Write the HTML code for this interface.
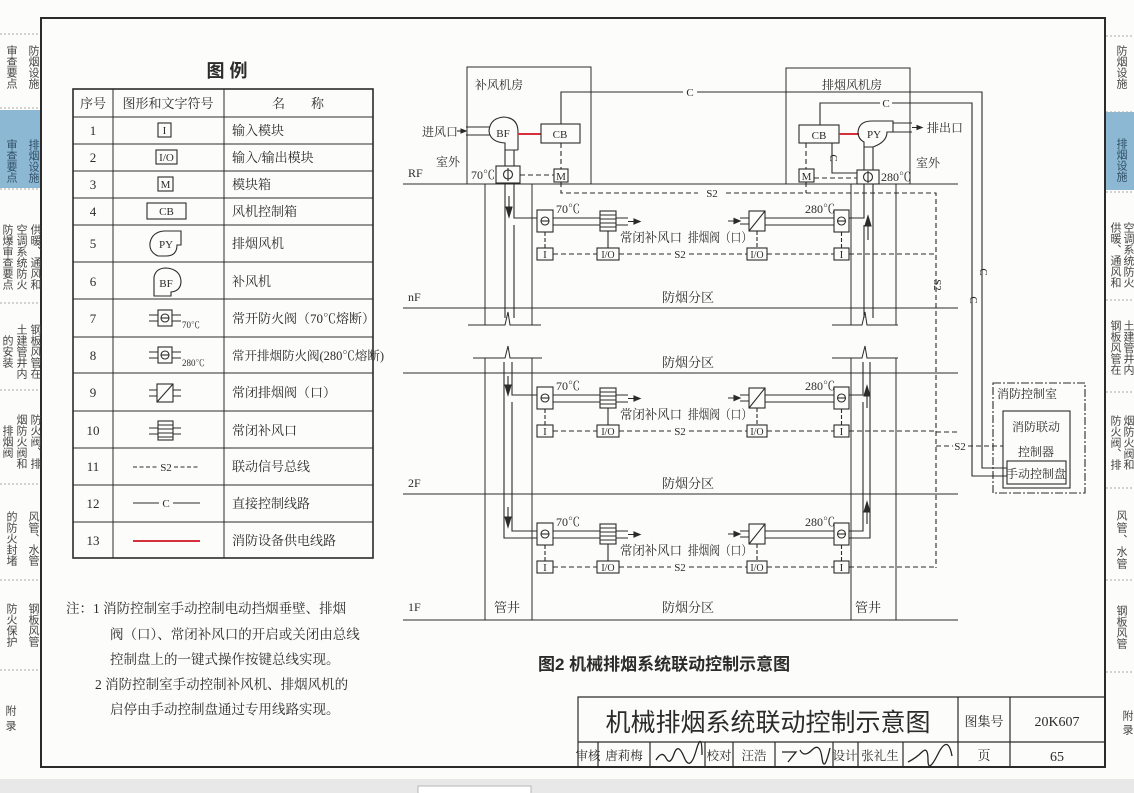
<!DOCTYPE html>
<html><head><meta charset="utf-8">
<style>
body{margin:0;width:1134px;height:793px;overflow:hidden;background:#fcfcfa;position:relative;font-family:"Liberation Serif","Noto Serif CJK SC",serif;}
.v{position:absolute;writing-mode:vertical-rl;font-family:"Liberation Sans","Noto Sans CJK SC",sans-serif;font-size:11px;color:#444;text-align:center;}
.vr{position:absolute;writing-mode:vertical-lr;font-family:"Liberation Sans","Noto Sans CJK SC",sans-serif;font-size:11px;color:#444;white-space:nowrap;}
svg{position:absolute;left:0;top:0;}
svg text{fill:#2b2b2b;stroke:none;}
</style></head><body>
<svg width="1134" height="793" viewBox="0 0 1134 793" font-family="'Liberation Serif','Noto Serif CJK SC',serif" fill="none" stroke="#2b2b2b" stroke-width="1.1">
<rect x="0" y="110" width="41" height="78" fill="#8db8d4" stroke="none"/>
<rect x="1106" y="112" width="28" height="78" fill="#8db8d4" stroke="none"/>
<g stroke="#aaa" stroke-dasharray="2,2" stroke-width="1">
<line x1="0" y1="34" x2="41" y2="34"/><line x1="0" y1="108" x2="41" y2="108"/><line x1="0" y1="189" x2="41" y2="189"/><line x1="0" y1="303" x2="41" y2="303"/><line x1="0" y1="390" x2="41" y2="390"/><line x1="0" y1="484" x2="41" y2="484"/><line x1="0" y1="580" x2="41" y2="580"/><line x1="0" y1="670" x2="41" y2="670"/>
<line x1="1106" y1="36" x2="1134" y2="36"/><line x1="1106" y1="112" x2="1134" y2="112"/><line x1="1106" y1="192" x2="1134" y2="192"/><line x1="1106" y1="300" x2="1134" y2="300"/><line x1="1106" y1="392" x2="1134" y2="392"/><line x1="1106" y1="488" x2="1134" y2="488"/><line x1="1106" y1="580" x2="1134" y2="580"/><line x1="1106" y1="672" x2="1134" y2="672"/>
</g>
<rect x="0" y="779" width="1134" height="14" fill="#e8e8e8" stroke="none"/>
<rect x="418" y="786" width="113" height="10" fill="#fff" stroke="#bbb"/>
<rect x="41" y="18" width="1064" height="749" stroke-width="2"/>

<text x="227" y="77" font-size="18" font-weight="bold" text-anchor="middle" font-family="'Liberation Sans','Noto Sans CJK SC',sans-serif">图 例</text>
<rect x="73" y="89" width="300" height="469" stroke-width="1.6"/>
<g stroke-width="1">
<line x1="113" y1="89" x2="113" y2="558"/><line x1="224" y1="89" x2="224" y2="558"/>
<line x1="73" y1="117" x2="373" y2="117"/><line x1="73" y1="144" x2="373" y2="144"/><line x1="73" y1="171" x2="373" y2="171"/><line x1="73" y1="198" x2="373" y2="198"/><line x1="73" y1="225" x2="373" y2="225"/><line x1="73" y1="262" x2="373" y2="262"/><line x1="73" y1="299" x2="373" y2="299"/><line x1="73" y1="337" x2="373" y2="337"/><line x1="73" y1="373" x2="373" y2="373"/><line x1="73" y1="411" x2="373" y2="411"/><line x1="73" y1="448" x2="373" y2="448"/><line x1="73" y1="485" x2="373" y2="485"/><line x1="73" y1="522" x2="373" y2="522"/>
</g>
<g font-size="13">
<text x="93" y="108" text-anchor="middle">序号</text><text x="168" y="108" text-anchor="middle">图形和文字符号</text><text x="298" y="108" text-anchor="middle">名　　称</text>
<g text-anchor="middle"><text x="93" y="135">1</text><text x="93" y="162">2</text><text x="93" y="189">3</text><text x="93" y="216">4</text><text x="93" y="248">5</text><text x="93" y="286">6</text><text x="93" y="323">7</text><text x="93" y="360">8</text><text x="93" y="397">9</text><text x="93" y="435">10</text><text x="93" y="471">11</text><text x="93" y="508">12</text><text x="93" y="545">13</text></g>
<text x="232" y="135">输入模块</text><text x="232" y="162">输入/输出模块</text><text x="232" y="189">模块箱</text><text x="232" y="216">风机控制箱</text><text x="232" y="248">排烟风机</text><text x="232" y="286">补风机</text><text x="232" y="323">常开防火阀（70℃熔断）</text><text x="232" y="360" font-size="12.5">常开排烟防火阀(280℃熔断)</text><text x="232" y="397">常闭排烟阀（口）</text><text x="232" y="435">常闭补风口</text><text x="232" y="471">联动信号总线</text><text x="232" y="508">直接控制线路</text><text x="232" y="545">消防设备供电线路</text>
</g>
<g font-size="11" fill="none">
<rect x="158" y="123" width="13" height="14"/><text x="164.5" y="134" text-anchor="middle">I</text>
<rect x="156" y="150" width="21" height="14"/><text x="166.5" y="161" text-anchor="middle">I/O</text>
<rect x="158" y="177" width="15" height="14"/><text x="165.5" y="188" text-anchor="middle">M</text>
<rect x="147" y="203" width="39" height="16"/><text x="166.5" y="215" text-anchor="middle">CB</text>
<path d="M158,256 Q149,252 150,243 Q152,232 164,231 L181,231 L181,245 L177,245 Q177,256 166,256 Z"/><text x="166" y="248" text-anchor="middle">PY</text>
<path d="M154,296 L154,277 Q156,268 166,268 Q180,269 181,281 Q181,291 171,292 L171,296 Z"/><text x="166" y="287" text-anchor="middle">BF</text>
<rect x="158" y="310" width="14" height="16"/><circle cx="165" cy="318" r="4"/><line x1="161" y1="318" x2="169" y2="318"/><path d="M149,315H158M149,321H158M172,315H181M172,321H181"/><text x="182" y="328" font-size="9">70℃</text>
<rect x="158" y="347" width="14" height="16"/><circle cx="165" cy="355" r="4"/><line x1="161" y1="355" x2="169" y2="355"/><path d="M149,352H158M149,358H158M172,352H181M172,358H181"/><text x="182" y="366" font-size="9">280℃</text>
<rect x="157" y="384" width="16" height="18"/><line x1="157" y1="402" x2="173" y2="384"/><path d="M149,390H157M149,396H157M173,390H181M173,396H181"/>
<rect x="158" y="421" width="15" height="19"/><path d="M158,425H173M158,429H173M158,433H173M158,437H173M149,428H158M149,434H158M173,428H181M173,434H181"/>
<line x1="133" y1="467" x2="158" y2="467" stroke-dasharray="4,2.5"/><text x="166" y="471" text-anchor="middle">S2</text><line x1="174" y1="467" x2="200" y2="467" stroke-dasharray="4,2.5"/>
<line x1="133" y1="503" x2="159" y2="503"/><text x="166" y="507" text-anchor="middle">C</text><line x1="173" y1="503" x2="200" y2="503"/>
<line x1="133" y1="541" x2="200" y2="541" stroke="#d3303c" stroke-width="2"/>
</g>
<g font-size="13.5">
<text x="66" y="613">注：1 消防控制室手动控制电动挡烟垂壁、排烟</text>
<text x="110" y="639">阀（口）、常闭补风口的开启或关闭由总线</text>
<text x="110" y="664">控制盘上的一键式操作按键总线实现。</text>
<text x="95" y="689">2 消防控制室手动控制补风机、排烟风机的</text>
<text x="110" y="714">启停由手动控制盘通过专用线路实现。</text>
</g>

<g stroke-width="1">
<line x1="403" y1="184" x2="958" y2="184"/><line x1="403" y1="308" x2="958" y2="308"/><line x1="403" y1="373" x2="958" y2="373"/><line x1="403" y1="494" x2="958" y2="494"/><line x1="403" y1="620" x2="958" y2="620"/>
<path d="M467,184V67H591V184"/><path d="M786,184V68H910V184"/>
<path d="M485,184V325M532,184V325M851,184V325M896,184V325"/>
<path d="M468,325H505L508,312L510,325H541"/><path d="M832,325H862L865,312L867,325H898"/>
<path d="M473,358H505L508,346L510,358H542"/><path d="M832,358H862L865,346L867,358H898"/>
<path d="M485,358V620M532,358V620M851,358V620M896,358V620"/>
</g>
<g font-size="12">
<text x="408" y="177">RF</text><text x="408" y="301">nF</text><text x="408" y="487">2F</text><text x="408" y="611">1F</text>
<text x="475" y="89">补风机房</text><text x="822" y="89">排烟风机房</text>
<text x="422" y="136">进风口</text><text x="436" y="166">室外</text><text x="916" y="167">室外</text>
<text x="927" y="132">排出口</text>
<text x="471" y="179">70℃</text><text x="881" y="181">280℃</text>
<g text-anchor="middle" font-size="13"><text x="688" y="302">防烟分区</text><text x="688" y="367">防烟分区</text><text x="688" y="488">防烟分区</text><text x="688" y="612">防烟分区</text><text x="507" y="612">管井</text><text x="868" y="612">管井</text></g>
</g>
<g font-size="11" fill="none">
<path d="M457,131H461"/><path d="M466,131l-5,-2v4z" fill="#2b2b2b"/>
<path d="M466,127H490M466,135H490"/>
<path d="M505,150L505,143Q490,142 489,131Q490,118 504,117Q518,118 518,132V150M505,150H518"/>
<text x="503" y="137" text-anchor="middle">BF</text>
<line x1="518" y1="134" x2="541" y2="134" stroke="#d3303c" stroke-width="2"/>
<rect x="541" y="124" width="39" height="19"/><text x="560" y="138" text-anchor="middle">CB</text>
<path d="M505,150V166M514,150V166"/>
<rect x="496" y="166" width="24" height="17"/><circle cx="508" cy="174.5" r="4.5"/><line x1="508" y1="168" x2="508" y2="181"/>
<line x1="520" y1="175" x2="554" y2="175" stroke-dasharray="5,3"/>
<line x1="561" y1="143" x2="561" y2="169" stroke-dasharray="5,3"/>
<rect x="554" y="169" width="14" height="13"/><text x="561" y="180" text-anchor="middle">M</text>
<path d="M561,182V193H698M726,193H936V568" stroke-dasharray="5,3"/>
<text x="712" y="197" text-anchor="middle">S2</text>
<text transform="translate(934,285) rotate(90)" text-anchor="middle">S2</text>
<path d="M561,124V92H683M697,92H982V468H1007"/><text x="690" y="96" text-anchor="middle">C</text>
<path d="M820,125V103H880M892,103H972V476H1007"/><text x="886" y="107" text-anchor="middle">C</text>
<text transform="translate(970,300) rotate(90)" text-anchor="middle">C</text>
<text transform="translate(980,272) rotate(90)" text-anchor="middle">C</text>
<rect x="799" y="125" width="40" height="18"/><text x="819" y="139" text-anchor="middle">CB</text>
<line x1="839" y1="134" x2="859" y2="134" stroke="#d3303c" stroke-width="2"/>
<path d="M864,147V142Q858,139 858,132Q859,121 872,121H893V132H887Q887,142 873,147M864,147H873"/>
<text x="874" y="138" text-anchor="middle">PY</text>
<path d="M893,123H912M893,132H912M912,127.5H917"/><path d="M922,127.5l-5,-2v4z" fill="#2b2b2b"/>
<path d="M832,143V173H857"/><text transform="translate(830,158) rotate(90)" text-anchor="middle">C</text>
<line x1="806" y1="143" x2="806" y2="169" stroke-dasharray="5,3"/>
<rect x="799" y="169" width="15" height="13"/><text x="806.5" y="180" text-anchor="middle">M</text>
<line x1="806" y1="182" x2="806" y2="193" stroke-dasharray="5,3"/>
<line x1="814" y1="178" x2="857" y2="178" stroke-dasharray="5,3"/>
<path d="M864,147V170M873,147V170"/>
<rect x="857" y="170" width="22" height="14"/><circle cx="868" cy="177" r="4.5"/><line x1="868" y1="171" x2="868" y2="183"/>
<path d="M505,183V318M514,183V218H537M514,225V318"/>
<path d="M864,184V218H849M864,225V318M873,184V318"/>
<line x1="509" y1="196" x2="509" y2="208"/><path d="M509,217l-3,-10h6z" fill="#2b2b2b"/>
<line x1="868" y1="240" x2="868" y2="226"/><path d="M868,216l-3,10h6z" fill="#2b2b2b"/>
<path d="M504,362V538H537M512,362V395H537M512,402V531H537"/>
<path d="M870,362V538H849M863,362V395H849M863,402V531H849"/>
<line x1="508" y1="376" x2="508" y2="386"/><path d="M508,395l-3,-10h6z" fill="#2b2b2b"/>
<line x1="508" y1="507" x2="508" y2="517"/><path d="M508,527l-3,-10h6z" fill="#2b2b2b"/>
<line x1="867" y1="408" x2="867" y2="396"/><path d="M867,386l-3,10h6z" fill="#2b2b2b"/>
<line x1="867" y1="524" x2="867" y2="512"/><path d="M867,502l-3,10h6z" fill="#2b2b2b"/>
<path d="M936,432H958M936,446H953M968,446H1003" stroke-dasharray="5,3"/>
<text x="960" y="450" text-anchor="middle">S2</text>
<rect x="993" y="383" width="92" height="110" stroke-dasharray="8,2,2,2"/>
<rect x="1003" y="411" width="67" height="77"/>
<rect x="1007" y="461" width="59" height="23"/>
<g font-size="12"><text x="997" y="398">消防控制室</text><text x="1036" y="431" text-anchor="middle">消防联动</text><text x="1036" y="456" text-anchor="middle">控制器</text><text x="1036" y="478" text-anchor="middle">手动控制盘</text></g>
</g>

<g id="r1" transform="translate(0,221)" font-size="11" fill="none">
<rect x="537" y="-11" width="16" height="22"/><circle cx="545" cy="0" r="4"/><line x1="541" y1="0" x2="549" y2="0"/>
<text x="556" y="-8" font-size="12">70℃</text>
<path d="M553,-3H600M553,4H600"/>
<rect x="600" y="-10" width="16" height="20"/><path d="M600,-6H616M600,-2H616M600,2H616M600,6H616"/>
<path d="M616,-3H628M616,4H628M628,0.5H634"/><path d="M640,0.5l-6,-2.5v5z" fill="#2b2b2b"/>
<line x1="545" y1="11" x2="545" y2="27" stroke-dasharray="4,2"/>
<rect x="537" y="27" width="16" height="12"/><text x="545" y="37" text-anchor="middle">I</text>
<line x1="608" y1="10" x2="608" y2="27"/>
<rect x="597" y="27" width="22" height="12"/><text x="608" y="37" text-anchor="middle" font-size="10">I/O</text>
<path d="M553,33H597M619,33H671M689,33H747M767,33H834M849,33H936" stroke-dasharray="5,3"/>
<text x="680" y="37" text-anchor="middle">S2</text>
<text x="620" y="21" font-size="13" textLength="62" lengthAdjust="spacingAndGlyphs">常闭补风口</text>
<text x="688" y="21" font-size="13" textLength="64" lengthAdjust="spacingAndGlyphs">排烟阀（口）</text>
<path d="M728,0H735M740,-3H749M740,3H749"/><path d="M740,0l-6,-2.5v5z" fill="#2b2b2b"/>
<rect x="749" y="-10" width="16" height="20"/><line x1="749" y1="10" x2="765" y2="-10"/>
<line x1="757" y1="10" x2="757" y2="27" stroke-dasharray="4,2"/>
<rect x="747" y="27" width="20" height="12"/><text x="757" y="37" text-anchor="middle" font-size="10">I/O</text>
<path d="M765,-3H834M765,4H834"/>
<text x="805" y="-8" font-size="12">280℃</text>
<rect x="834" y="-11" width="15" height="22"/><circle cx="841.5" cy="0" r="4"/><line x1="837.5" y1="0" x2="845.5" y2="0"/>
<line x1="841.5" y1="11" x2="841.5" y2="27" stroke-dasharray="4,2"/>
<rect x="834" y="27" width="15" height="12"/><text x="841.5" y="37" text-anchor="middle">I</text>
</g>
<use href="#r1" transform="translate(0,177)"/>
<use href="#r1" transform="translate(0,313)"/>

<text x="538" y="670" font-size="17" font-family="'Liberation Sans','Noto Sans CJK SC',sans-serif" font-weight="bold">图2  机械排烟系统联动控制示意图</text>

<g stroke-width="1.2">
<path d="M578,767V697H1105M578,742H1105M958,697V767M1010,697V767"/>
<path d="M598,742V767M650,742V767M705,742V767M733,742V767M775,742V767M833,742V767M858,742V767M903,742V767"/>
</g>
<g>
<text x="768" y="731" font-size="25" text-anchor="middle" font-family="'Liberation Sans','Noto Sans CJK SC',sans-serif">机械排烟系统联动控制示意图</text>
<text x="984" y="726" font-size="13" text-anchor="middle">图集号</text>
<text x="1057" y="726" font-size="14" text-anchor="middle">20K607</text>
<text x="984" y="760" font-size="13" text-anchor="middle">页</text>
<text x="1057" y="761" font-size="14" text-anchor="middle">65</text>
<g font-size="12.5" text-anchor="middle"><text x="588" y="760">审核</text><text x="624" y="760">唐莉梅</text><text x="719" y="760">校对</text><text x="754" y="760">汪浩</text><text x="845" y="760">设计</text><text x="880" y="760">张礼生</text></g>
</g>
<g stroke="#222" stroke-width="1.3" fill="none">
<path d="M656,760q6,-10 10,-2t8,-4t10,3t12,-6t6,4"/>
<path d="M782,752h14l-8,10M800,750q4,8 12,0t10,8t8,-10"/>
<path d="M908,762q8,-4 14,-10t6,8t10,-6t14,2"/>
</g>
</svg>

<div class="v" style="left:0;top:42px;width:44px;height:50px;line-height:22px;">防烟设施审查要点</div>
<div class="v" style="left:0;top:136px;width:44px;height:50px;line-height:22px;color:#2f4f66;">排烟设施审查要点</div>
<div class="v" style="left:0;top:220px;width:42px;height:74px;line-height:14px;">供暖、通风和空调系统防火防爆审查要点</div>
<div class="v" style="left:0;top:320px;width:42px;height:62px;line-height:14px;">钢板风管在土建管井内的安装</div>
<div class="v" style="left:0;top:410px;width:42px;height:62px;line-height:14px;">防火阀、排烟防火阀和排烟阀</div>
<div class="v" style="left:0;top:507px;width:44px;height:62px;line-height:22px;">风管、水管的防火封堵</div>
<div class="v" style="left:0;top:600px;width:44px;height:50px;line-height:22px;">钢板风管防火保护</div>
<div class="v" style="left:0;top:705px;width:20px;height:30px;line-height:20px;letter-spacing:4px;">附录</div>
<div style="position:absolute;left:1106px;top:0;width:28px;height:779px;overflow:hidden;">
<div class="vr" style="left:8px;top:45px;line-height:14px;">防烟设施</div>
<div class="vr" style="left:8px;top:138px;line-height:14px;color:#2f4f66;">排烟设施</div>
<div class="vr" style="left:2px;top:222px;line-height:13px;height:70px;white-space:normal;">供暖、通风和空调系统防火</div>
<div class="vr" style="left:2px;top:320px;line-height:13px;height:60px;white-space:normal;">钢板风管在土建管井内</div>
<div class="vr" style="left:2px;top:415px;line-height:13px;height:60px;white-space:normal;">防火阀、排烟防火阀和</div>
<div class="vr" style="left:8px;top:510px;line-height:14px;letter-spacing:1px;">风管、水管</div>
<div class="vr" style="left:8px;top:605px;line-height:14px;">钢板风管</div>
<div class="vr" style="left:14px;top:710px;line-height:14px;letter-spacing:3px;">附录</div>
</div>
</body></html>
